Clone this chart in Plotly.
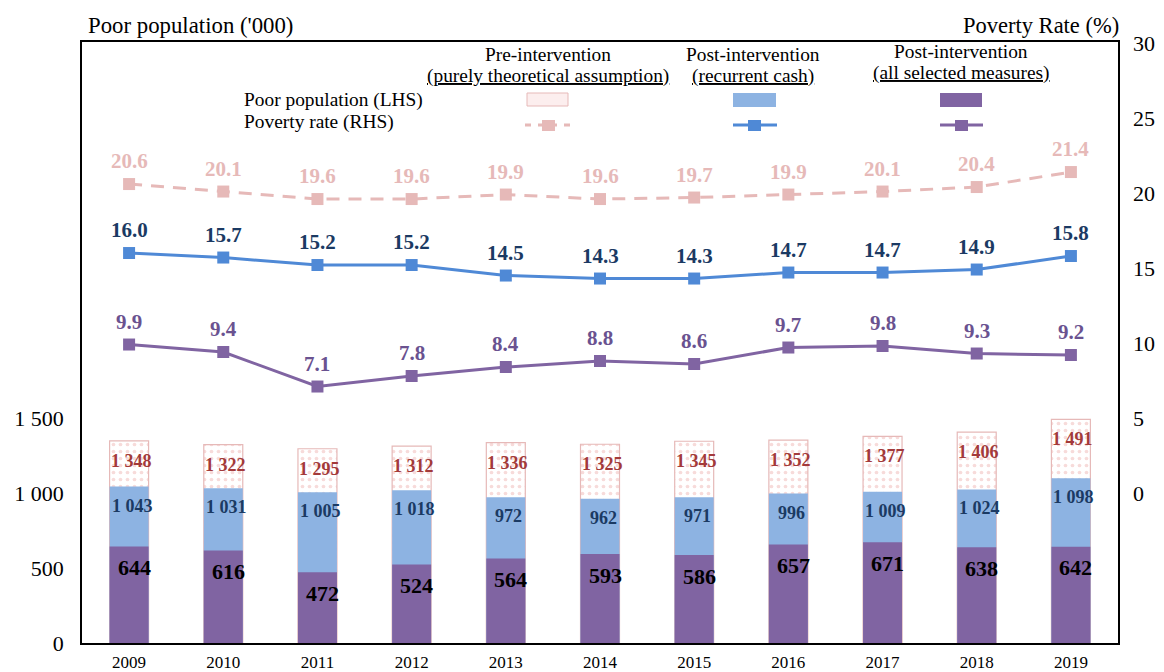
import plotly.graph_objects as go

years = ["2009", "2010", "2011", "2012", "2013", "2014", "2015", "2016", "2017", "2018", "2019"]
pre_pop = [1348, 1322, 1295, 1312, 1336, 1325, 1345, 1352, 1377, 1406, 1491]
rec_pop = [1043, 1031, 1005, 1018, 972, 962, 971, 996, 1009, 1024, 1098]
all_pop = [644, 616, 472, 524, 564, 593, 586, 657, 671, 638, 642]
pre_rate = [20.6, 20.1, 19.6, 19.6, 19.9, 19.6, 19.7, 19.9, 20.1, 20.4, 21.4]
rec_rate = [16.0, 15.7, 15.2, 15.2, 14.5, 14.3, 14.3, 14.7, 14.7, 14.9, 15.8]
all_rate = [9.9, 9.4, 7.1, 7.8, 8.4, 8.8, 8.6, 9.7, 9.8, 9.3, 9.2]
left_ticks = [0, 500, 1000, 1500]
right_ticks = [0, 5, 10, 15, 20, 25, 30]

FONT = "Liberation Serif"
PINK = "#E6B9B8"
PINK_DOT = "#F0B8B6"
PRE_TXT = "#A33A3A"
BLUE_BAR = "#8DB3E2"
BLUE_LINE = "#4F89D6"
NAVY = "#1B3A63"
PURPLE = "#8064A2"
PURPLE_TXT = "#6A5290"

def fmt(v):
    return f"{v:,}".replace(",", " ")

fig = go.Figure()
BW = 0.414
fig.add_trace(go.Bar(x=years, y=pre_pop, width=BW, yaxis="y",
                     marker=dict(color="white",
                                 line=dict(color=PINK, width=1.2),
                                 pattern=dict(shape=".", fgcolor=PINK_DOT, bgcolor="white",
                                              size=7, solidity=0.22)),
                     showlegend=False, hoverinfo="skip"))
fig.add_trace(go.Bar(x=years, y=rec_pop, width=BW, yaxis="y",
                     marker=dict(color=BLUE_BAR, line=dict(width=0)),
                     showlegend=False, hoverinfo="skip"))
fig.add_trace(go.Bar(x=years, y=all_pop, width=BW, yaxis="y",
                     marker=dict(color=PURPLE, line=dict(width=0)),
                     showlegend=False, hoverinfo="skip"))

fig.add_trace(go.Scatter(x=years, y=pre_rate, yaxis="y2", mode="lines+markers",
                         line=dict(color=PINK, width=3, dash="13px,9px"),
                         marker=dict(symbol="square", size=12, color=PINK),
                         showlegend=False, hoverinfo="skip"))
fig.add_trace(go.Scatter(x=years, y=rec_rate, yaxis="y2", mode="lines+markers",
                         line=dict(color=BLUE_LINE, width=3),
                         marker=dict(symbol="square", size=12, color=BLUE_LINE),
                         showlegend=False, hoverinfo="skip"))
fig.add_trace(go.Scatter(x=years, y=all_rate, yaxis="y2", mode="lines+markers",
                         line=dict(color=PURPLE, width=3),
                         marker=dict(symbol="square", size=12, color=PURPLE),
                         showlegend=False, hoverinfo="skip"))

ann = []
for i, y in enumerate(years):
    ann.append(dict(x=i, y=pre_pop[i], xref="x", yref="y", text=f"<b>{fmt(pre_pop[i])}</b>",
                    showarrow=False, yshift=-20, xshift=2,
                    font=dict(family=FONT, size=18, color=PRE_TXT)))
    ann.append(dict(x=i, y=rec_pop[i], xref="x", yref="y", text=f"<b>{fmt(rec_pop[i])}</b>",
                    showarrow=False, yshift=-19, xshift=3,
                    font=dict(family=FONT, size=18, color=NAVY)))
    ann.append(dict(x=i, y=all_pop[i], xref="x", yref="y", text=f"<b>{fmt(all_pop[i])}</b>",
                    showarrow=False, yshift=-21, xshift=5,
                    font=dict(family=FONT, size=22, color="black")))
    ann.append(dict(x=i, y=pre_rate[i], xref="x", yref="y2", text=f"<b>{pre_rate[i]:.1f}</b>",
                    showarrow=False, yshift=23,
                    font=dict(family=FONT, size=21, color=PINK)))
    ann.append(dict(x=i, y=rec_rate[i], xref="x", yref="y2", text=f"<b>{rec_rate[i]:.1f}</b>",
                    showarrow=False, yshift=23,
                    font=dict(family=FONT, size=21, color=NAVY)))
    ann.append(dict(x=i, y=all_rate[i], xref="x", yref="y2", text=f"<b>{all_rate[i]:.1f}</b>",
                    showarrow=False, yshift=23,
                    font=dict(family=FONT, size=21, color=PURPLE_TXT)))

W, H = 1164, 672
L, R, T, B = 82, 46, 42, 29
pw, ph = W - L - R, H - T - B

def px(x):
    return (x - L) / pw

def py(y):
    return (H - B - y) / ph

def pa(xp, yp, text, size, anchor="center"):
    ann.append(dict(x=px(xp), y=py(yp), xref="paper", yref="paper", text=text,
                    showarrow=False, xanchor=anchor, yanchor="middle",
                    font=dict(family=FONT, size=size, color="black")))

# axis titles
pa(86, 25, "Poor population ('000)", 22.8, "left")
pa(1121, 25, "Poverty Rate (%)", 22.5, "right")

# legend table headers
LS = 19.4
pa(548, 55, "Pre-intervention", LS)
pa(548, 76, "<u>(purely theoretical assumption)</u>", LS)
pa(753, 55, "Post-intervention", LS)
pa(753, 76, "<u>(recurrent cash)</u>", LS)
pa(961, 52, "Post-intervention", LS)
pa(961, 73, "<u>(all selected measures)</u>", LS)
pa(242, 100, "Poor population (LHS)", LS, "left")
pa(242, 122, "Poverty rate (RHS)", LS, "left")

shapes = []
def rect(x0, y0, x1, y1, fill, line=None):
    shapes.append(dict(type="rect", xref="paper", yref="paper",
                       x0=px(x0), x1=px(x1), y0=py(y0), y1=py(y1),
                       fillcolor=fill, line=dict(color=line or fill, width=1 if line else 0)))

def seg(x0, x1, y, color, dash="solid"):
    shapes.append(dict(type="line", xref="paper", yref="paper",
                       x0=px(x0), x1=px(x1), y0=py(y), y1=py(y),
                       line=dict(color=color, width=3, dash=dash)))

rect(527, 93, 568, 106, "#FCEEEE", PINK)
rect(733, 93, 776, 107, BLUE_BAR)
rect(940, 93, 982, 107, PURPLE)
seg(525, 570, 125, PINK, "6px,7px")
rect(542, 120, 555, 131, PINK)
seg(733, 777, 125, BLUE_LINE)
rect(748, 120, 761, 131, BLUE_LINE)
seg(940, 983, 125, PURPLE)
rect(955, 120, 968, 131, PURPLE)

fig.update_layout(
    width=W, height=H,
    margin=dict(l=L, r=R, t=T, b=B, autoexpand=False),
    paper_bgcolor="white", plot_bgcolor="white",
    barmode="overlay", bargap=0.5,
    font=dict(family=FONT, color="black"),
    xaxis=dict(type="category", range=[-0.5, 10.5], showline=True, linecolor="black",
               linewidth=1.5, mirror=True, ticks="", showgrid=False, automargin=False,
               ticklabelstandoff=3, tickfont=dict(family=FONT, size=17)),
    yaxis=dict(range=[0, 4006.7], tickvals=left_ticks, ticktext=[fmt(v) for v in left_ticks],
               showline=True, linecolor="black", linewidth=1.5, mirror=True, automargin=False,
               showgrid=False, zeroline=False, ticks="", ticklabelstandoff=12,
               tickfont=dict(family=FONT, size=22)),
    yaxis2=dict(range=[-10, 30.07], overlaying="y", side="right", tickvals=right_ticks,
                showline=False, showgrid=False, zeroline=False, ticks="", automargin=False,
                ticklabelstandoff=14, tickfont=dict(family=FONT, size=22)),
    annotations=ann, shapes=shapes,
)

fig.write_html("out.html")
